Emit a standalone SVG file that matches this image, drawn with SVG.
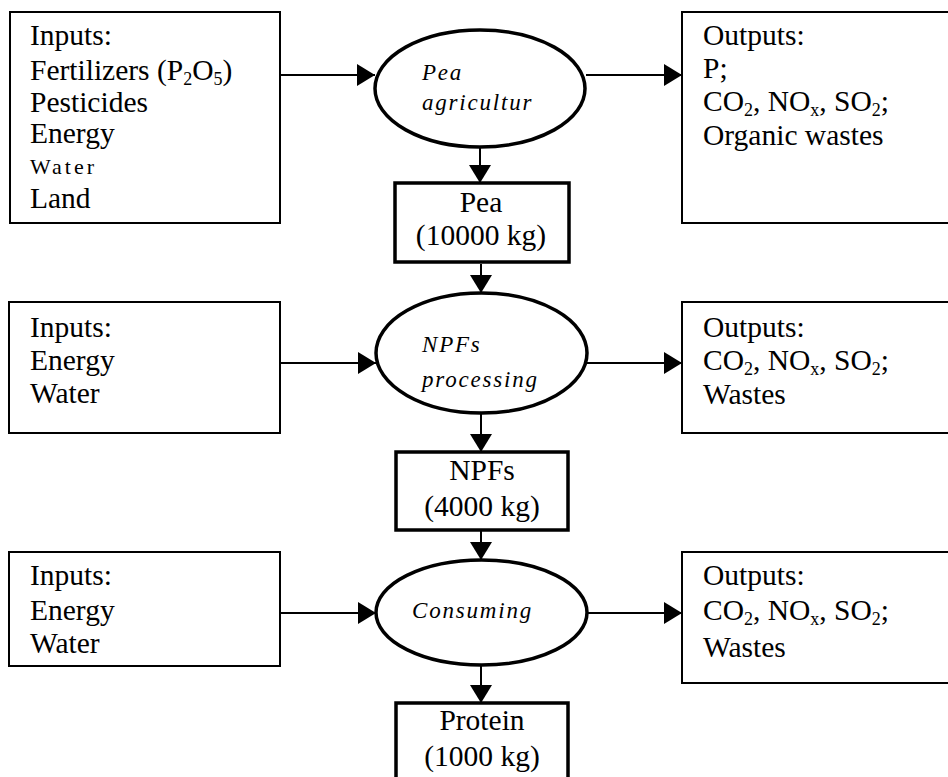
<svg xmlns="http://www.w3.org/2000/svg" width="948" height="777" viewBox="0 0 948 777">
<defs>
<marker id="ah" markerUnits="userSpaceOnUse" markerWidth="18" markerHeight="22" refX="18" refY="11" orient="auto">
<path d="M0,0 L18,11 L0,22 Z" fill="#000"/>
</marker>
<style>
.box{fill:#fff;stroke:#000;stroke-width:2}
.tbox{fill:#fff;stroke:#000;stroke-width:3.5}
.ell{fill:#fff;stroke:#000;stroke-width:3.5}
.t{font-family:"Liberation Serif","Times New Roman",serif;font-size:29.5px;fill:#000}
.c{text-anchor:middle}
.i{font-family:"Liberation Serif","Times New Roman",serif;font-size:23px;font-style:italic;letter-spacing:1.8px;fill:#000}
.sub{font-size:18px}
.con{stroke:#000;stroke-width:2;fill:none;marker-end:url(#ah)}
</style>
</defs>
<rect width="948" height="777" fill="#fff"/>
<g id="connectors">
<line class="con" x1="281" y1="75" x2="375" y2="75"/>
<line class="con" x1="586" y1="75" x2="682" y2="75"/>
<line class="con" x1="480" y1="147" x2="480" y2="183"/>
<line class="con" x1="481" y1="264" x2="481" y2="293"/>
<line class="con" x1="281" y1="363" x2="376" y2="363"/>
<line class="con" x1="587" y1="363" x2="682" y2="363"/>
<line class="con" x1="481" y1="413" x2="481" y2="452"/>
<line class="con" x1="481" y1="530" x2="481" y2="560"/>
<line class="con" x1="281" y1="613" x2="376" y2="613"/>
<line class="con" x1="587" y1="613" x2="682" y2="613"/>
<line class="con" x1="481" y1="665" x2="481" y2="703"/>
</g>
<g id="inputs1">
<rect class="box" x="10" y="12" width="270" height="211"/>
<text class="t" x="30" y="45">Inputs:</text>
<text class="t" x="30" y="80">Fertilizers (P<tspan class="sub" dy="5">2</tspan><tspan dy="-5">O</tspan><tspan class="sub" dy="5">5</tspan><tspan dy="-5">)</tspan></text>
<text class="t" x="30" y="112">Pesticides</text>
<text class="t" x="30" y="143">Energy</text>
<text class="t" x="30" y="174" style="font-size:22px;letter-spacing:3px">Water</text>
<text class="t" x="30" y="208">Land</text>
</g>
<g id="pea-agriculture">
<ellipse class="ell" cx="480" cy="88.5" rx="105" ry="58.5"/>
<text class="i" x="422" y="80">Pea</text>
<text class="i" x="422" y="110">agricultur</text>
</g>
<g id="outputs1">
<rect class="box" x="682" y="12" width="280" height="211"/>
<text class="t" x="703" y="45">Outputs:</text>
<text class="t" x="703" y="78">P;</text>
<text class="t" x="703" y="111">CO<tspan class="sub" dy="5">2</tspan><tspan dy="-5">, NO</tspan><tspan class="sub" dy="5">x</tspan><tspan dy="-5">, SO</tspan><tspan class="sub" dy="5">2</tspan><tspan dy="-5">;</tspan></text>
<text class="t" x="703" y="145">Organic wastes</text>
</g>
<g id="pea">
<rect class="tbox" x="395" y="183" width="174" height="79"/>
<text class="t c" x="481" y="212">Pea</text>
<text class="t c" x="481" y="245">(10000 kg)</text>
</g>
<g id="inputs2">
<rect class="box" x="9" y="302" width="271" height="131"/>
<text class="t" x="30" y="337">Inputs:</text>
<text class="t" x="30" y="370">Energy</text>
<text class="t" x="30" y="403">Water</text>
</g>
<g id="npfs-processing">
<ellipse class="ell" cx="481.5" cy="353" rx="105.5" ry="60"/>
<text class="i" x="422" y="352">NPFs</text>
<text class="i" x="422" y="387">processing</text>
</g>
<g id="outputs2">
<rect class="box" x="682" y="302" width="280" height="131"/>
<text class="t" x="703" y="337">Outputs:</text>
<text class="t" x="703" y="370">CO<tspan class="sub" dy="5">2</tspan><tspan dy="-5">, NO</tspan><tspan class="sub" dy="5">x</tspan><tspan dy="-5">, SO</tspan><tspan class="sub" dy="5">2</tspan><tspan dy="-5">;</tspan></text>
<text class="t" x="703" y="404">Wastes</text>
</g>
<g id="npfs">
<rect class="tbox" x="396" y="452" width="172" height="78"/>
<text class="t c" x="482" y="480">NPFs</text>
<text class="t c" x="482" y="516">(4000 kg)</text>
</g>
<g id="inputs3">
<rect class="box" x="9" y="552" width="271" height="114"/>
<text class="t" x="30" y="585">Inputs:</text>
<text class="t" x="30" y="620">Energy</text>
<text class="t" x="30" y="653">Water</text>
</g>
<g id="consuming">
<ellipse class="ell" cx="481.5" cy="612.5" rx="105.5" ry="52.5"/>
<text class="i" x="412" y="618">Consuming</text>
</g>
<g id="outputs3">
<rect class="box" x="682" y="552" width="280" height="131"/>
<text class="t" x="703" y="585">Outputs:</text>
<text class="t" x="703" y="620">CO<tspan class="sub" dy="5">2</tspan><tspan dy="-5">, NO</tspan><tspan class="sub" dy="5">x</tspan><tspan dy="-5">, SO</tspan><tspan class="sub" dy="5">2</tspan><tspan dy="-5">;</tspan></text>
<text class="t" x="703" y="657">Wastes</text>
</g>
<g id="protein">
<rect class="tbox" x="396" y="703" width="172" height="82"/>
<text class="t c" x="482" y="730">Protein</text>
<text class="t c" x="482" y="766">(1000 kg)</text>
</g>
</svg>
